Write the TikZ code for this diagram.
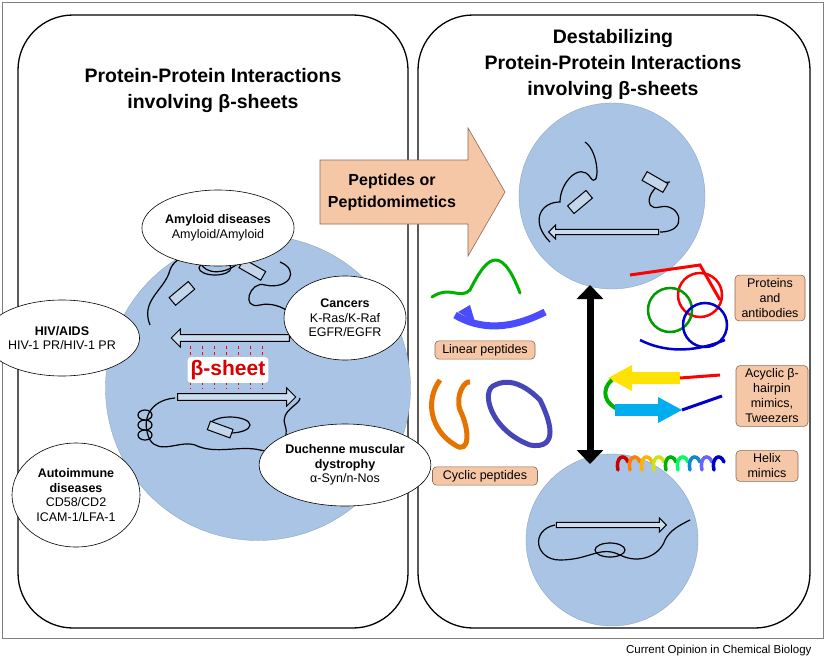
\documentclass[tikz,border=0pt]{standalone}
\usepackage{fontspec}
\setmainfont{Liberation Sans}
\usetikzlibrary{arrows.meta,shapes.geometric,shapes.arrows}
\definecolor{circ}{HTML}{A9C4E4}
\definecolor{peach}{HTML}{F6C7A6}
\definecolor{peachd}{HTML}{8A6A55}
\tikzset{
 panel/.style={draw=black,line width=1.3pt,rounded corners=55pt},
 disc/.style={circle,fill=circ,draw=circ!80!black,line width=0.3pt},
 ell/.style={ellipse,draw=black,fill=white,line width=0.6pt,align=center,font=\fontsize{12.5}{14.5}\selectfont,inner sep=1pt},
 lab/.style={draw=peachd,fill=peach,rounded corners=4pt,align=center,font=\fontsize{12.5}{15}\selectfont,line width=0.6pt},
 strand/.style={draw=black,fill=circ!70,line width=1pt},
 coil/.style={draw=black,line width=1.2pt},
 ttl/.style={font=\bfseries\fontsize{19.5}{26}\selectfont,align=center}
}
\begin{document}
\begin{tikzpicture}[x=1pt,y=-1pt]
\useasboundingbox (0,0) rectangle (825,664);
\fill[white] (0,0) rectangle (825,664);
\draw[gray,line width=0.6pt] (2,2) rectangle (823,638);
% panels
\draw[panel] (18,15) rectangle (408,628);
\draw[panel] (418,15) rectangle (810,628);
\node[ttl] (t1) at (213,90) {Protein-Protein Interactions\\involving β-sheets};
\node[ttl] (t2) at (613,64) {Destabilizing\\Protein-Protein Interactions\\involving β-sheets};
% left circle
\node[disc,minimum size=305pt] (c1) at (258,388) {};
% upper protein coil
\draw[coil] (290,338) .. controls (310,320) and (280,300) .. (260,305) .. controls (240,310) and (250,280) .. (265,285) .. controls (290,290) and (300,270) .. (280,262);
\draw[coil] (150,325) .. controls (140,300) and (165,290) .. (170,270) .. controls (175,255) and (200,250) .. (200,262) .. controls (205,275) and (225,275) .. (240,262) .. controls (230,250) and (210,255) .. (215,245);
\draw[coil] (215,268) ellipse (16pt and 7pt);
\draw[coil] (225,258) ellipse (14pt and 6pt);
\draw[strand,rotate around={40:(180,295)}] (170,290) rectangle (195,300);
\draw[strand,rotate around={-30:(255,270)}] (240,266) rectangle (265,276);
% upper strand arrow (left)
\node[single arrow,draw=black,fill=circ!60,line width=1pt,minimum height=118pt,minimum width=18pt,single arrow head extend=4pt,inner sep=2pt,shape border rotate=180] (a1) at (232,338) {};
% lower strand arrow (right)
\node[single arrow,draw=black,fill=circ!60,line width=1pt,minimum height=118pt,minimum width=18pt,single arrow head extend=4pt,inner sep=2pt] (a2) at (235,397) {};
\foreach \x in {190,202,214,226,238,250,262}{\draw[red,dashed,line width=0.6pt] (\x,346) -- (\x,389);}
\node[fill=white,rounded corners=3pt,text=red!85!black,font=\bfseries\fontsize{21}{24}\selectfont,inner sep=3pt] (bs) at (228,370) {β-sheet};
% lower coil
\draw[coil] (175,398) .. controls (150,400) and (140,420) .. (150,440) .. controls (160,455) and (180,440) .. (195,445) .. controls (215,455) and (240,445) .. (260,450) .. controls (280,455) and (290,440) .. (285,425) .. controls (280,410) and (300,405) .. (300,398);
\foreach \y in {415,425,435}{\draw[coil] (145,\y) ellipse (7pt and 5pt);}
\draw[coil] (230,425) ellipse (20pt and 8pt);
\draw[strand,rotate around={-20:(220,430)}] (208,425) rectangle (232,434);
% ellipses
\node[ell,minimum width=122pt,minimum height=76pt] (e1) at (218,228) {\textbf{Amyloid diseases}\\Amyloid/Amyloid};
\node[ell,minimum width=142pt,minimum height=76pt] (e2) at (62,338) {\textbf{HIV/AIDS}\\HIV-1 PR/HIV-1 PR};
\node[ell,minimum width=122pt,minimum height=84pt] (e3) at (345,318) {\textbf{Cancers}\\K-Ras/K-Raf\\EGFR/EGFR};
\node[ell,minimum width=128pt,minimum height=104pt] (e4) at (76,495) {\textbf{Autoimmune}\\\textbf{diseases}\\CD58/CD2\\ICAM-1/LFA-1};
\node[ell,minimum width=138pt,minimum height=82pt] (e5) at (345,465) {\textbf{Duchenne muscular}\\\textbf{dystrophy}\\α-Syn/n-Nos};
% big arrow
\draw[draw=peachd,fill=peach,line width=0.6pt] (320,160) -- (468,160) -- (468,128) -- (505,192) -- (468,256) -- (468,224) -- (320,224) -- cycle;
\node[font=\bfseries\fontsize{16}{22}\selectfont,align=center] (bt) at (392,192) {Peptides or\\Peptidomimetics};
% right circles
\node[disc,minimum size=186pt] (c2) at (612,196) {};
\node[single arrow,draw=black,fill=circ!60,line width=1pt,minimum height=110pt,minimum width=14pt,single arrow head extend=4pt,inner sep=2pt,shape border rotate=180] (a3) at (605,232) {};
\draw[coil] (550,242) .. controls (530,222) and (540,202) .. (560,202) .. controls (560,182) and (580,162) .. (590,177) .. controls (600,192) and (600,152) .. (585,142);
\draw[coil] (660,232) .. controls (690,232) and (680,202) .. (660,207) .. controls (640,212) and (650,182) .. (670,182);
\draw[strand,rotate around={40:(580,202)}] (568,197) rectangle (592,207);
\draw[strand,rotate around={-30:(655,182)}] (643,177) rectangle (667,187);
\begin{scope}
\clip (418,15) rectangle (810,628);
\node[disc,minimum size=172pt] (c3) at (612,540) {};
\end{scope}
\node[single arrow,draw=black,fill=circ!60,line width=1pt,minimum height=110pt,minimum width=14pt,single arrow head extend=4pt,inner sep=2pt] (a4) at (610,525) {};
\draw[coil] (555,525) .. controls (530,530) and (535,560) .. (560,560) .. controls (590,560) and (600,545) .. (620,555) .. controls (640,565) and (660,555) .. (665,540) .. controls (670,530) and (680,525) .. (690,520);
\draw[coil] (610,550) ellipse (15pt and 7pt);
% double arrow
\coordinate (d1) at (590,285);
\coordinate (d2) at (590,464);
\draw[line width=7pt,{Triangle[length=14pt,width=26pt]}-{Triangle[length=14pt,width=26pt]}] (d1) -- (d2);
% molecules (approximate)
\draw[green!70!black,line width=3pt,line cap=round] (432,297) .. controls (450,285) and (460,300) .. (470,290) .. controls (485,260) and (500,240) .. (520,293);
\draw[blue!70,line width=7pt] (455,315) .. controls (480,330) and (510,330) .. (545,312);
\fill[blue!70] (458,312) -- (470,305) -- (475,322) -- cycle;
\draw[orange!90!black,line width=5pt] (440,380) .. controls (425,400) and (430,430) .. (455,445) .. controls (470,455) and (470,430) .. (460,410) .. controls (455,395) and (465,380) .. (470,382);
\draw[blue!45!gray,line width=5pt] (495,385) .. controls (480,390) and (490,430) .. (530,445) .. controls (560,450) and (550,420) .. (540,400) .. controls (520,380) and (505,380) .. (495,385);
\foreach \c/\a/\b in {red/20/5,green!60!black/-10/20,blue!80!black/25/35}{\draw[\c,line width=2.5pt] (680+\a,290+\b) circle (22pt);}
\draw[red,line width=3pt] (630,275) -- (700,265) -- (720,300);
\draw[blue!80!black,line width=2.5pt] (640,340) .. controls (670,355) and (700,350) .. (725,340);
\draw[red,line width=3pt] (720,375) -- (680,378);
\draw[yellow!85!orange,line width=12pt] (680,378) -- (630,378);
\fill[yellow!85!orange] (632,365) -- (608,378) -- (632,391) -- cycle;
\draw[green!70!black,line width=4pt] (612,380) .. controls (600,390) and (605,405) .. (620,410);
\draw[cyan,line width=12pt] (615,410) -- (660,410);
\fill[cyan] (658,397) -- (682,410) -- (658,423) -- cycle;
\draw[blue!80!black,line width=3pt] (682,410) -- (722,396);
\foreach \x/\c in {618/red!80!black,630/orange,642/orange!60!yellow,654/yellow!80!green,666/green!70!black,678/green!60!cyan,690/cyan!70!blue,702/blue!60,714/blue!80!black}{\draw[\c,line width=3.5pt,line cap=round] (\x,470) .. controls (\x-3,458) and (\x+6,452) .. (\x+10,462);}
% labels
\node[lab,minimum width=100pt] (l1) at (485,350) {Linear peptides};
\node[lab,minimum width=105pt] (l2) at (485,476) {Cyclic peptides};
\node[lab,minimum width=70pt] (l3) at (770,298) {Proteins\\and\\antibodies};
\node[lab,minimum width=72pt] (l4) at (772,396) {Acyclic β-\\hairpin\\mimics,\\Tweezers};
\node[lab,minimum width=62pt] (l5) at (767,466) {Helix\\mimics};
\node[font=\fontsize{11.5}{13}\selectfont,anchor=east] (cap) at (815,651) {Current Opinion in Chemical Biology};
\end{tikzpicture}
\end{document}
